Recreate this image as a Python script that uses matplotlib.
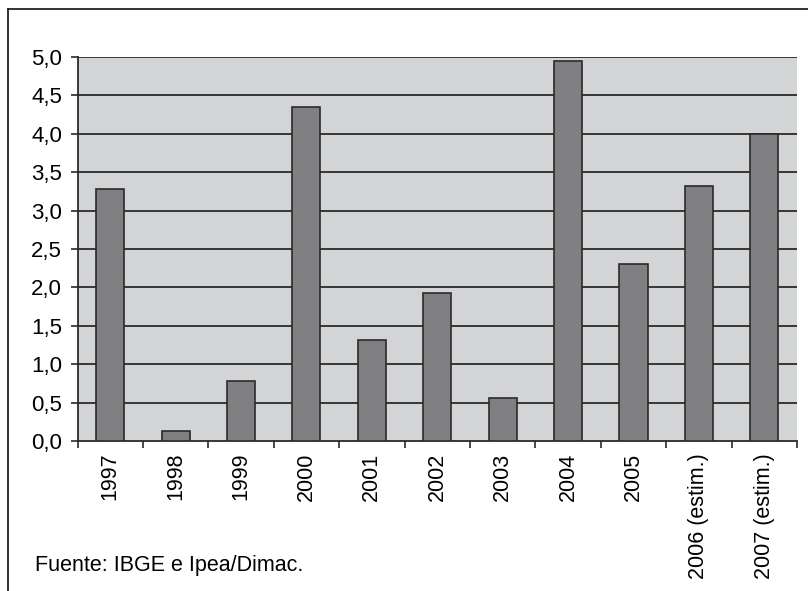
import numpy as np
import matplotlib
matplotlib.use("Agg")
import matplotlib.pyplot as plt
from matplotlib.lines import Line2D
from matplotlib.ticker import FuncFormatter

# data
years = ["1997", "1998", "1999", "2000", "2001", "2002", "2003", "2004",
         "2005", "2006 (estim.)", "2007 (estim.)"]
growth = [3.28, 0.13, 0.78, 4.35, 1.31, 1.93, 0.56, 4.95, 2.30, 3.32, 4.00]
yticks = [0.0, 0.5, 1.0, 1.5, 2.0, 2.5, 3.0, 3.5, 4.0, 4.5, 5.0]
source_note = "Fuente: IBGE e Ipea/Dimac."

plt.rcParams['font.family'] = ['Liberation Sans', 'DejaVu Sans']

fig = plt.figure(figsize=(8.08, 5.91), dpi=100)
ax = fig.add_axes([77.5 / 808, 150 / 591, 719.5 / 808, 384 / 591])
ax.set_facecolor("#d3d4d6")

x = np.arange(len(years))
ax.bar(x, growth, width=0.43, color="#808083", edgecolor="#2a2a2a",
       linewidth=1.2, zorder=3)

# horizontal grid lines
for v in yticks[1:]:
    ax.axhline(v, color="#2a2a2a", linewidth=1.3, zorder=2)

ax.set_xlim(-0.5, len(years) - 0.5)
ax.set_ylim(0, 5.0)
ax.set_yticks(yticks)
ax.yaxis.set_major_formatter(FuncFormatter(lambda v, p: f"{v:.1f}".replace(".", ",")))

# ticks sit between categories, labels sit on the bars
ax.set_xticks(np.arange(len(years) + 1) - 0.5)
ax.set_xticklabels([])
ax.set_xticks(x, minor=True)
ax.set_xticklabels(years, minor=True, rotation=90, va="top", ha="center")
ax.tick_params(axis="x", which="minor", length=0, pad=8.5, labelsize=15.5)
ax.tick_params(axis="x", which="major", length=5, width=1.2, color="#2a2a2a", direction="out")
ax.tick_params(axis="y", length=5, width=1.2, color="#2a2a2a", pad=6, labelsize=16)

for s in ["top", "right"]:
    ax.spines[s].set_visible(False)
for s in ["left", "bottom"]:
    ax.spines[s].set_color("#2a2a2a")
    ax.spines[s].set_linewidth(1.3)

# outer frame, only top and left edges visible in the crop
fig.add_artist(Line2D([8 / 808, 8 / 808], [0, 1 - 9 / 591], color="#222222", linewidth=1.3))
fig.add_artist(Line2D([8 / 808, 1], [1 - 9 / 591, 1 - 9 / 591], color="#222222", linewidth=1.3))

fig.text(35 / 808, 1 - 565 / 591, source_note, fontsize=15.5, va="center", ha="left")

fig.savefig("out.png", dpi=100)
